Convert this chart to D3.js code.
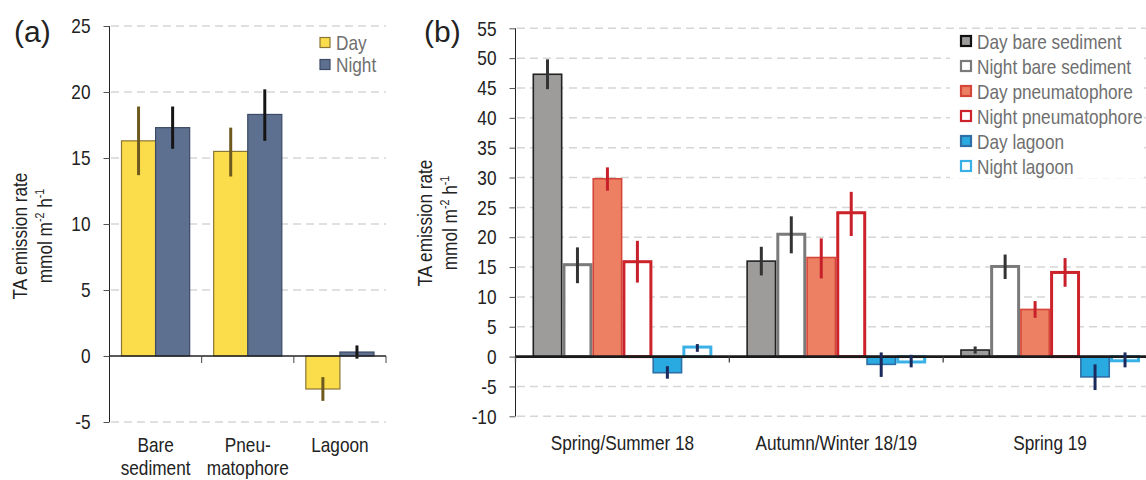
<!DOCTYPE html>
<html>
<head>
<meta charset="utf-8">
<script src="https://cdn.jsdelivr.net/npm/d3@7"></script>
<style>
  body { margin: 0; background: #fff; }
  svg { display: block; }
  text { font-family: 'Liberation Sans', Arial, sans-serif; }
</style>
</head>
<body>
<svg id="chart" width="1146" height="480"></svg>
<script>
// ---- panel (a) data ----
var habitats = ["Bare sediment", "Pneumatophore", "Lagoon"];
var habitatLabels = [["Bare", "sediment"], ["Pneu-", "matophore"], ["Lagoon"]];
var dayA = [16.3, 15.5, -2.5];
var dayA_lo = [13.7, 13.6, -3.4];
var dayA_hi = [18.9, 17.3, -1.6];
var nightA = [17.3, 18.3, 0.3];
var nightA_lo = [15.7, 16.3, -0.2];
var nightA_hi = [18.9, 20.2, 0.8];
var ticksA = [-5, 0, 5, 10, 15, 20, 25];

// ---- panel (b) data ----
var seasons = ["Spring/Summer 18", "Autumn/Winter 18/19", "Spring 19"];
var seriesB = ["Day bare sediment", "Night bare sediment", "Day pneumatophore",
               "Night pneumatophore", "Day lagoon", "Night lagoon"];
var valB = [
  [47.3, 16.0, 1.1],
  [15.4, 20.5, 15.1],
  [29.8, 16.6, 7.9],
  [15.9, 24.1, 14.1],
  [-2.7, -1.3, -3.4],
  [1.6, -0.9, -0.7]
];
var loB = [
  [44.8, 13.6, 0.5],
  [12.3, 17.3, 13.0],
  [27.8, 13.1, 6.5],
  [12.4, 20.2, 11.7],
  [-3.7, -3.4, -5.6],
  [0.8, -1.8, -1.8]
];
var hiB = [
  [49.8, 18.4, 1.7],
  [18.3, 23.5, 17.1],
  [31.7, 19.8, 9.3],
  [19.4, 27.6, 16.5],
  [-1.6, 0.7, -1.3],
  [2.1, 0.3, 0.7]
];
var ticksB = [-10, -5, 0, 5, 10, 15, 20, 25, 30, 35, 40, 45, 50, 55];

// no narrow font installed -> squeeze Liberation Sans horizontally
var NARROW = 0.82;
var FS = 21;

var svg = d3.select("#chart");

function ntext(g, x, y, str, opt) {
  opt = opt || {};
  return g.append("text")
    .attr("transform", "translate(" + x + "," + y + ")" + (opt.rotate ? " rotate(" + opt.rotate + ")" : "") + " scale(" + NARROW + ",1)")
    .attr("text-anchor", opt.anchor || "start")
    .attr("font-size", opt.size || FS)
    .attr("fill", opt.fill || "#222")
    .text(str);
}

function styleAxis(g, topV, botV, y) {
  g.select(".domain").attr("stroke", "#222").attr("d", "M0," + y(topV) + "V" + y(botV));
  g.selectAll(".tick line").attr("stroke", "#555");
  g.selectAll(".tick text")
    .attr("font-size", FS).attr("fill", "#222")
    .attr("transform", "scale(" + NARROW + ",1)")
    .attr("x", -19 / NARROW)
    .style("font-family", "'Liberation Sans', Arial, sans-serif");
}

function yLabel(g, cx, cy) {
  ntext(g, cx, cy, "TA emission rate", { rotate: -90, anchor: "middle" });
  var t2 = ntext(g, cx + 25, cy, "", { rotate: -90, anchor: "middle" });
  t2.append("tspan").text("mmol m");
  t2.append("tspan").attr("font-size", 13).attr("dy", -8).text("-2");
  t2.append("tspan").attr("dy", 8).text(" h");
  t2.append("tspan").attr("font-size", 13).attr("dy", -8).text("-1");
}

// ================= panel (a) =================
var xA = d3.scaleBand().domain(habitats).range([109.5, 386]);
var subA = d3.scaleBand().domain(["Day", "Night"]).range([12, xA.bandwidth() - 12]);
var yA = d3.scaleLinear().domain([-5, 25]).range([422, 26]);

var gA = svg.append("g");

// dashed grid
gA.selectAll(".grid").data(ticksA.filter(d => d != 0)).enter()
  .append("line")
  .attr("x1", 111).attr("x2", 386)
  .attr("y1", d => yA(d)).attr("y2", d => yA(d))
  .attr("stroke", "#d6d6d6").attr("stroke-width", 1.5)
  .attr("stroke-dasharray", "8,5");

gA.append("g")
  .attr("transform", "translate(109.5,0)")
  .call(d3.axisLeft(yA).tickValues(ticksA).tickSize(6).tickFormat(d => String(d)))
  .call(g => styleAxis(g, 25, -5, yA));

var dayColA = { fill: "#fbdc4a", stroke: "#8a7636", err: "#6e5a1f" };
var nightColA = { fill: "#5e7090", stroke: "#3c4a66", err: "#151515" };

function drawA(vals, lo, hi, key, col) {
  gA.selectAll(".bar" + key).data(habitats).enter()
    .append("rect")
    .attr("x", d => xA(d) + subA(key))
    .attr("width", subA.bandwidth())
    .attr("y", (d, i) => yA(Math.max(0, vals[i])))
    .attr("height", (d, i) => Math.abs(yA(vals[i]) - yA(0)))
    .attr("fill", col.fill).attr("stroke", col.stroke).attr("stroke-width", 1.2);
  gA.selectAll(".err" + key).data(habitats).enter()
    .append("line")
    .attr("x1", d => xA(d) + subA(key) + subA.bandwidth() / 2)
    .attr("x2", d => xA(d) + subA(key) + subA.bandwidth() / 2)
    .attr("y1", (d, i) => yA(lo[i])).attr("y2", (d, i) => yA(hi[i]))
    .attr("stroke", col.err).attr("stroke-width", 3);
}
drawA(dayA, dayA_lo, dayA_hi, "Day", dayColA);
drawA(nightA, nightA_lo, nightA_hi, "Night", nightColA);

// zero line + category ticks
gA.append("line").attr("x1", 109.5).attr("x2", 386).attr("y1", yA(0)).attr("y2", yA(0))
  .attr("stroke", "#222").attr("stroke-width", 1.3);
gA.selectAll(".ctick").data(habitats).enter()
  .append("line")
  .attr("x1", d => xA(d) + xA.bandwidth())
  .attr("x2", d => xA(d) + xA.bandwidth())
  .attr("y1", yA(0)).attr("y2", yA(0) + 7)
  .attr("stroke", "#444").attr("stroke-width", 1);

// category labels
habitatLabels.forEach(function (lines, i) {
  var cx = xA(habitats[i]) + xA.bandwidth() / 2;
  lines.forEach(function (l, j) {
    ntext(gA, cx, 452 + j * 23, l, { anchor: "middle" });
  });
});

// legend (a)
[["Day", dayColA], ["Night", nightColA]].forEach(function (d, i) {
  gA.append("rect").attr("x", 320).attr("y", 37.5 + i * 22).attr("width", 10).attr("height", 10)
    .attr("fill", d[1].fill).attr("stroke", d[1].stroke).attr("stroke-width", 1.2);
  ntext(gA, 336, 49.5 + i * 22, d[0], { fill: "#6f6f6f" });
});

gA.append("text").attr("x", 14).attr("y", 42).attr("font-size", 30).attr("fill", "#222").text("(a)");

yLabel(gA, 27, 236);

// ================= panel (b) =================
var xB = d3.scaleBand().domain(seasons).range([515.5, 1157]);
var subB = d3.scaleBand().domain(seriesB).range([17, xB.bandwidth() - 17]);
var yB = d3.scaleLinear().domain([-10, 55]).range([416.3, 28.3]);

var gB = svg.append("g");

gB.selectAll(".grid").data(ticksB.filter(d => d != 0)).enter()
  .append("line")
  .attr("x1", 517).attr("x2", 1146)
  .attr("y1", d => yB(d)).attr("y2", d => yB(d))
  .attr("stroke", "#d6d6d6").attr("stroke-width", 1.5)
  .attr("stroke-dasharray", "8,5");

gB.append("g")
  .attr("transform", "translate(515.5,0)")
  .call(d3.axisLeft(yB).tickValues(ticksB).tickSize(6).tickFormat(d => String(d)))
  .call(g => styleAxis(g, 55, -10, yB));

var stylesB = [
  { fill: "#9d9c9a", stroke: "#222222", sw: 1.6, err: "#333333" },
  { fill: "#ffffff", stroke: "#7a7a7a", sw: 3, err: "#333333" },
  { fill: "#ed8062", stroke: "#d4463a", sw: 1.6, err: "#c8202a" },
  { fill: "#ffffff", stroke: "#cc2229", sw: 3, err: "#c8202a" },
  { fill: "#29abe2", stroke: "#2f6fa6", sw: 1.6, err: "#1b2a5c" },
  { fill: "#ffffff", stroke: "#3ab1e6", sw: 3, err: "#1b2a5c" }
];

// white legend backdrop (covers the grid behind the legend text)
gB.append("rect").attr("x", 950).attr("y", 32).attr("width", 194).attr("height", 146).attr("fill", "#fff");

seriesB.forEach(function (s, k) {
  var st = stylesB[k];
  gB.selectAll(".bar" + k).data(seasons).enter()
    .append("rect")
    .attr("x", d => xB(d) + subB(s) + st.sw / 2)
    .attr("width", subB.bandwidth() - st.sw)
    .attr("y", (d, i) => yB(Math.max(0, valB[k][i])))
    .attr("height", (d, i) => Math.abs(yB(valB[k][i]) - yB(0)))
    .attr("fill", st.fill).attr("stroke", st.stroke).attr("stroke-width", st.sw);
});

// zero line + category ticks
gB.append("line").attr("x1", 515.5).attr("x2", 1146).attr("y1", yB(0)).attr("y2", yB(0))
  .attr("stroke", "#1a1a1a").attr("stroke-width", 2.6);
gB.selectAll(".ctick").data(seasons).enter()
  .append("line")
  .attr("x1", d => xB(d)).attr("x2", d => xB(d))
  .attr("y1", yB(0)).attr("y2", yB(0) + 6)
  .attr("stroke", "#444").attr("stroke-width", 1.3);

seriesB.forEach(function (s, k) {
  var st = stylesB[k];
  gB.selectAll(".err" + k).data(seasons).enter()
    .append("line")
    .attr("x1", d => xB(d) + subB(s) + subB.bandwidth() / 2)
    .attr("x2", d => xB(d) + subB(s) + subB.bandwidth() / 2)
    .attr("y1", (d, i) => yB(loB[k][i])).attr("y2", (d, i) => yB(hiB[k][i]))
    .attr("stroke", st.err).attr("stroke-width", 3);
});

seasons.forEach(function (s) {
  ntext(gB, xB(s) + xB.bandwidth() / 2, 450, s, { anchor: "middle" });
});

// legend (b)
seriesB.forEach(function (s, k) {
  var st = stylesB[k];
  gB.append("rect").attr("x", 961).attr("y", 36 + k * 25).attr("width", 10).attr("height", 10)
    .attr("fill", st.fill).attr("stroke", k == 0 ? "#111" : st.stroke).attr("stroke-width", 2.2);
  ntext(gB, 977, 48.5 + k * 25, s, { fill: "#6f6f6f" });
});

gB.append("text").attr("x", 424).attr("y", 42).attr("font-size", 30).attr("fill", "#222").text("(b)");

yLabel(gB, 432, 223);
</script>
</body>
</html>
